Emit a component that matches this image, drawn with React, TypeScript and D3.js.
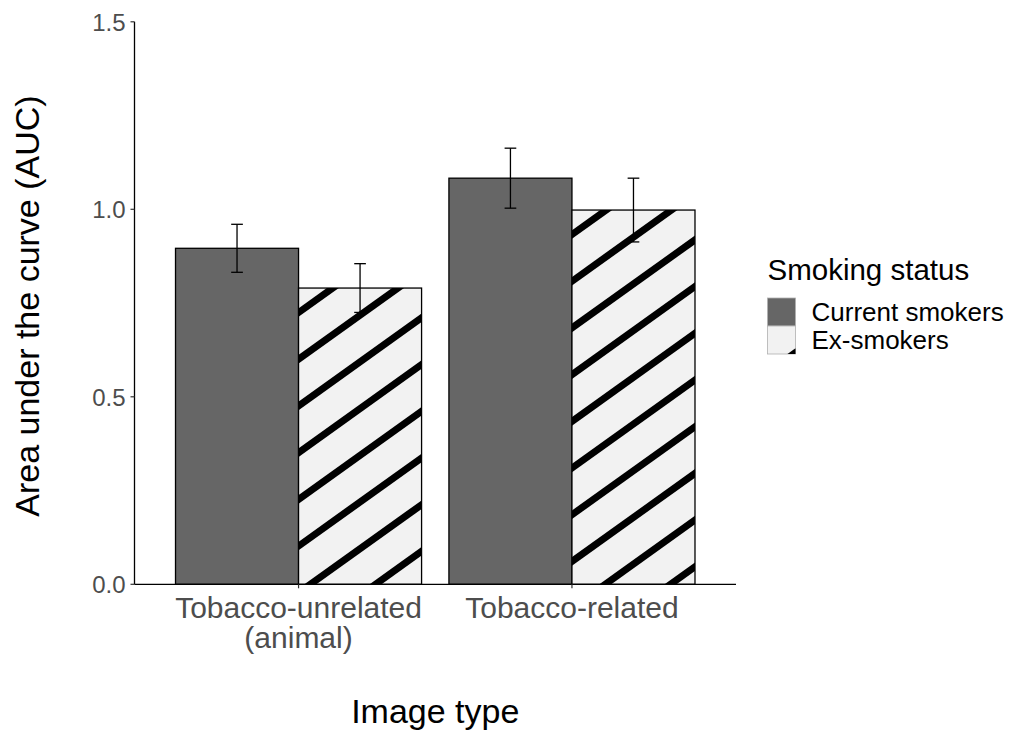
import React from "react";
import * as d3 from "d3";

// Image categories on the x axis and their (possibly multi-line) tick labels
const categories = ["Tobacco-unrelated (animal)", "Tobacco-related"];
const categoryLabelLines = [["Tobacco-unrelated", "(animal)"], ["Tobacco-related"]];

// Smoking status groups
const seriesNames = ["Current smokers", "Ex-smokers"];

// Mean AUC and standard error per category
const currentMeans = [0.896, 1.083];
const currentSE = [0.064, 0.08];
const exMeans = [0.79, 0.998];
const exSE = [0.065, 0.085];

const yTicks = [0, 0.5, 1.0, 1.5];

const W = 1011;
const H = 733;
const FONT = "'Liberation Sans', Arial, Helvetica, sans-serif";

const panel = { left: 134.5, right: 736, top: 21.8, bottom: 584.3 };

const FILL_CURRENT = "#666666";
const FILL_EX = "#F2F2F2";

// Diagonal stripe hatch parameters
const STRIPE_SLOPE = 0.716;
const STRIPE_SPACING = 46.7;
const STRIPE_OFFSET = 24.5;
const STRIPE_WIDTH = 7;

type Seg = [number, number, number, number];

function stripeSegments(
  x0: number,
  y0: number,
  w: number,
  h: number,
  offset: number,
  spacing: number
): Seg[] {
  const segs: Seg[] = [];
  const margin = 12;
  const kMin = Math.floor((-margin - offset) / spacing);
  const kMax = Math.ceil((h + STRIPE_SLOPE * w + margin - offset) / spacing);
  for (let k = kMin; k <= kMax; k++) {
    const ya = y0 + offset + k * spacing;
    segs.push([x0 - 2, ya + STRIPE_SLOPE * 2, x0 + w + 2, ya - STRIPE_SLOPE * (w + 2)]);
  }
  return segs;
}

export default function App() {
  const x = d3
    .scaleBand<string>()
    .domain(categories)
    .range([panel.left, panel.right])
    .paddingInner(0.1)
    .paddingOuter(0.15);

  const xInner = d3.scaleBand<string>().domain(seriesNames).range([0, x.bandwidth()]).padding(0);

  const y = d3.scaleLinear().domain([0, 1.5]).range([panel.bottom, panel.top]);

  const series = [
    { name: seriesNames[0], means: currentMeans, se: currentSE, fill: FILL_CURRENT, hatch: false },
    { name: seriesNames[1], means: exMeans, se: exSE, fill: FILL_EX, hatch: true },
  ];

  const bars = categories.flatMap((cat, ci) =>
    series.map((s, si) => {
      const bx = (x(cat) as number) + (xInner(s.name) as number);
      const bw = xInner.bandwidth();
      const top = y(s.means[ci]);
      return {
        key: `${ci}-${si}`,
        bx,
        bw,
        top,
        bottom: y(0),
        cx: bx + bw / 2,
        hi: y(s.means[ci] + s.se[ci]),
        lo: y(s.means[ci] - s.se[ci]),
        fill: s.fill,
        hatch: s.hatch,
      };
    })
  );

  const capHalf = xInner.bandwidth() * 0.0475;

  // legend geometry
  const legX = 767.5;
  const legTitleY = 279.5;
  const keySize = 28;
  const keyTop = 298;

  return (
    <svg
      width={W}
      height={H}
      viewBox={`0 0 ${W} ${H}`}
      style={{ position: "absolute", left: 0, top: 0, background: "#ffffff" }}
      fontFamily={FONT}
    >
      <defs>
        {bars
          .filter((b) => b.hatch)
          .map((b) => (
            <clipPath id={`clip-${b.key}`} key={b.key}>
              <rect x={b.bx} y={b.top} width={b.bw} height={b.bottom - b.top} />
            </clipPath>
          ))}
        <clipPath id="clip-key-ex">
          <rect x={legX} y={keyTop + keySize} width={keySize} height={keySize} />
        </clipPath>
      </defs>

      <rect x={0} y={0} width={W} height={H} fill="#ffffff" />

      {/* bars, error bars, hatch, outlines */}
      {bars.map((b) => (
        <g key={b.key}>
          <rect x={b.bx} y={b.top} width={b.bw} height={b.bottom - b.top} fill={b.fill} />
          <g stroke="#000" strokeWidth={1.3} fill="none">
            <line x1={b.cx} x2={b.cx} y1={b.hi} y2={b.lo} />
            <line x1={b.cx - capHalf} x2={b.cx + capHalf} y1={b.hi} y2={b.hi} />
            <line x1={b.cx - capHalf} x2={b.cx + capHalf} y1={b.lo} y2={b.lo} />
          </g>
          {b.hatch && (
            <g clipPath={`url(#clip-${b.key})`} stroke="#000" strokeWidth={STRIPE_WIDTH}>
              {stripeSegments(b.bx, b.top, b.bw, b.bottom - b.top, STRIPE_OFFSET, STRIPE_SPACING).map(
                (s, i) => (
                  <line key={i} x1={s[0]} y1={s[1]} x2={s[2]} y2={s[3]} />
                )
              )}
            </g>
          )}
          <rect
            x={b.bx}
            y={b.top}
            width={b.bw}
            height={b.bottom - b.top}
            fill="none"
            stroke="#000"
            strokeWidth={1.3}
          />
        </g>
      ))}

      {/* y axis */}
      <line x1={panel.left} x2={panel.left} y1={panel.top} y2={panel.bottom} stroke="#000" strokeWidth={1.3} />
      {yTicks.map((t) => (
        <g key={t}>
          <line x1={panel.left - 4} x2={panel.left} y1={y(t)} y2={y(t)} stroke="#333" strokeWidth={1.2} />
          <text
            x={panel.left - 9}
            y={y(t)}
            dy="0.38em"
            textAnchor="end"
            fontSize={24}
            fill="#4D4D4D"
          >
            {t.toFixed(1)}
          </text>
        </g>
      ))}

      {/* x axis */}
      <line x1={panel.left} x2={panel.right} y1={panel.bottom} y2={panel.bottom} stroke="#000" strokeWidth={1.3} />
      {categories.map((c, i) => {
        const cx = (x(c) as number) + x.bandwidth() / 2;
        return (
          <g key={c}>
            <line x1={cx} x2={cx} y1={panel.bottom} y2={panel.bottom + 4} stroke="#333" strokeWidth={1.2} />
            <text x={cx} y={617.5} textAnchor="middle" fontSize={30} fill="#4D4D4D">
              {categoryLabelLines[i].map((ln, j) => (
                <tspan key={j} x={cx} dy={j === 0 ? 0 : 30}>
                  {ln}
                </tspan>
              ))}
            </text>
          </g>
        );
      })}

      {/* axis titles */}
      <text
        x={(panel.left + panel.right) / 2}
        y={723}
        textAnchor="middle"
        fontSize={34}
        fill="#000"
      >
        Image type
      </text>
      <text
        transform={`translate(39, ${(panel.top + panel.bottom) / 2 + 3}) rotate(-90)`}
        textAnchor="middle"
        fontSize={34}
        fill="#000"
      >
        Area under the curve (AUC)
      </text>

      {/* legend */}
      <text x={legX} y={legTitleY} fontSize={29.5} fill="#000">
        Smoking status
      </text>
      {series.map((s, i) => {
        const ky = keyTop + i * keySize;
        return (
          <g key={s.name}>
            <rect x={legX} y={ky} width={keySize} height={keySize} fill={s.fill} stroke="#B0B0B0" strokeWidth={0.8} />
            {s.hatch && (
              <g clipPath="url(#clip-key-ex)" stroke="#000" strokeWidth={STRIPE_WIDTH}>
                {stripeSegments(legX, ky, keySize, keySize, 46.6, 60).map((sg, j) => (
                  <line key={j} x1={sg[0]} y1={sg[1]} x2={sg[2]} y2={sg[3]} />
                ))}
              </g>
            )}
            <text x={811.5} y={ky + keySize / 2} dy="0.36em" fontSize={26} fill="#000">
              {s.name}
            </text>
          </g>
        );
      })}
    </svg>
  );
}
